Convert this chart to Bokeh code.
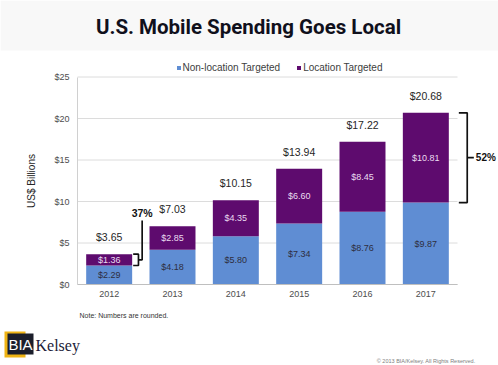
from bokeh.plotting import figure
from bokeh.models import ColumnDataSource, FixedTicker, Legend, LegendItem, Label, Range1d
from bokeh.core.properties import value
from bokeh.embed import file_html
from bokeh.resources import INLINE

# ---------------- data ----------------
years = ["2012", "2013", "2014", "2015", "2016", "2017"]
non_location = [2.29, 4.18, 5.80, 7.34, 8.76, 9.87]
location = [1.36, 2.85, 4.35, 6.60, 8.45, 10.81]
totals = [3.65, 7.03, 10.15, 13.94, 17.22, 20.68]
y_ticks = [0, 5, 10, 15, 20, 25]
y_tick_labels = ["$0", "$5", "$10", "$15", "$20", "$25"]
series_names = ["Non-location Targeted", "Location Targeted"]
bracket_years = ["2012", "2017"]
bracket_labels = ["37%", "52%"]

title_text = "U.S. Mobile Spending Goes Local"
y_label = "US$ Billions"
note_text = "Note: Numbers are rounded."
copyright_text = "\u00a9 2013 BIA/Kelsey. All Rights Reserved."

# ---------------- layout (page pixels) ----------------
W, H = 498, 365
FL, FR, FT, FB = 77, 457, 76.5, 284       # plotting area of the chart
Y_MAX = y_ticks[-1]
PXX = (FR - FL) / len(years)
PXY = (FB - FT) / Y_MAX


def dx(px):
    return (px - FL) / PXX


def dy(py):
    return (FB - py) / PXY


BLUE = "#5f8dd3"
PURPLE = "#5e0b6e"
FONT = "Liberation Sans"
INK = "#111111"

xs = [i + 0.5 for i in range(len(years))]
stack_top = [a + b for a, b in zip(non_location, location)]
src = ColumnDataSource(dict(
    x=xs, year=years, non=non_location, loc=location, total=totals,
    non_mid=[v / 2 for v in non_location],
    loc_mid=[a + b / 2 for a, b in zip(non_location, location)],
    non_lbl=["$%.2f" % v for v in non_location],
    loc_lbl=["$%.2f" % v for v in location],
    tot_lbl=["$%.2f" % v for v in totals],
))

p = figure(width=W, height=H, output_backend="svg", toolbar_location=None,
           x_range=Range1d(dx(0), dx(W)), y_range=Range1d(dy(H), dy(0)),
           min_border=0)
p.outline_line_color = None
p.background_fill_color = "white"
p.border_fill_color = "white"

# light header band behind the title
p.quad(left=[dx(0)], right=[dx(W)], top=[dy(0)], bottom=[dy(50)],
       fill_color="#f8f8f8", line_color=None)

# grid lines (bounded to the category span)
p.xgrid.grid_line_color = None
p.ygrid.grid_line_color = None
p.segment(x0=[0] * len(y_ticks), x1=[len(years)] * len(y_ticks), y0=y_ticks, y1=y_ticks,
          line_color="#dcdcdc", line_width=1)

renderers = p.vbar_stack(["non", "loc"], x="x", width=0.726, source=src,
                         color=[BLUE, PURPLE], line_color=None)

# axes, pinned at the data origin
p.xaxis.fixed_location = 0
p.yaxis.fixed_location = 0
p.xaxis.ticker = FixedTicker(ticks=xs)
p.xaxis.major_label_overrides = {x: y for x, y in zip(xs, years)}
p.xaxis.bounds = (0, len(years))
p.yaxis.ticker = FixedTicker(ticks=y_ticks)
p.yaxis.major_label_overrides = {t: l for t, l in zip(y_ticks, y_tick_labels)}
p.yaxis.bounds = (0, Y_MAX)
for ax in (p.xaxis, p.yaxis):
    ax.major_tick_line_color = None
    ax.minor_tick_line_color = None
    ax.major_tick_out = 0
    ax.major_tick_in = 0
    ax.minor_tick_out = 0
    ax.major_label_text_font = FONT
    ax.major_label_text_font_size = "9px"
    ax.major_label_text_color = "#4d4d4d"
p.xaxis.axis_line_color = "#bfbfbf"
p.yaxis.axis_line_color = "#d0d0d0"
p.xaxis.major_label_standoff = 6
p.yaxis.major_label_standoff = 8
p.yaxis.axis_label = y_label
p.yaxis.axis_label_text_font = FONT
p.yaxis.axis_label_text_font_size = "10px"
p.yaxis.axis_label_text_font_style = "normal"
p.yaxis.axis_label_text_color = "#262626"
p.yaxis.axis_label_standoff = 14

# value labels
p.text(x="x", y="non_mid", text="non_lbl", source=src, text_align="center",
       text_baseline="middle", text_font_size="9px", text_color="#2e2e3e",
       text_font=value(FONT))
p.text(x="x", y="loc_mid", text="loc_lbl", source=src, text_align="center",
       text_baseline="middle", text_font_size="9px", text_color="#eadcf0",
       text_font=value(FONT))
p.text(x="x", y="total", text="tot_lbl", source=src, text_align="center",
       text_baseline="middle", text_font_size="10.5px", text_color="#262626",
       y_offset=-17, text_font=value(FONT))

# legend (location measured from the bottom-left of the canvas-wide frame)
legend = Legend(items=[LegendItem(label=series_names[0], renderers=[renderers[0]]),
                       LegendItem(label=series_names[1], renderers=[renderers[1]])],
                orientation="horizontal", location=(175.5, 292.5),
                label_text_font=FONT, label_text_font_size="10px",
                label_text_color="#404040", glyph_width=5, glyph_height=5,
                label_height=10, label_standoff=2, spacing=16, padding=0,
                margin=0, border_line_color=None, background_fill_alpha=0)
p.add_layout(legend)


# brackets
def bracket_paths(i, arm0, arm1, tip):
    xc = xs[i]
    a0, a1, t = xc + arm0 / PXX, xc + arm1 / PXX, xc + tip / PXX
    lo, hi = non_location[i], stack_top[i]
    mid = (lo + hi) / 2
    return [a0, a1, a1, a0], [hi, hi, lo, lo], t, mid


i0 = years.index(bracket_years[0])
bx0, by0, t0, m0 = bracket_paths(i0, 24, 29.3, 33)
top0 = dy(220)
i1 = years.index(bracket_years[1])
bx1, by1, t1, m1 = bracket_paths(i1, 33, 41.4, 48)
p.multi_line(xs=[bx0, [bx0[1], t0, t0], bx1, [bx1[1], t1]],
             ys=[by0, [m0, m0, top0], by1, [m1, m1]],
             line_color=INK, line_width=1.7)
p.add_layout(Label(x=t0, y=top0, y_offset=2, text=bracket_labels[0], text_align="center",
                   text_baseline="bottom", text_font=FONT, text_font_size="10.5px",
                   text_font_style="bold", text_color=INK))
p.add_layout(Label(x=t1, y=m1, x_offset=2, text=bracket_labels[1], text_align="left",
                   text_baseline="middle", text_font=FONT, text_font_size="10px",
                   text_font_style="bold", text_color=INK))

# title
p.add_layout(Label(x=dx(248), y=dy(26), text=title_text, text_align="center",
                   text_baseline="middle", text_font="Roboto",
                   text_font_size="20.5px", text_font_style="bold", text_color="#10101c"))

# footer: note, copyright, logo
p.add_layout(Label(x=dx(79), y=dy(315), text=note_text, text_align="left",
                   text_baseline="middle", text_font=FONT, text_font_size="7px",
                   text_color="#333333"))
p.add_layout(Label(x=dx(475), y=dy(360), text=copyright_text, text_align="right",
                   text_baseline="middle", text_font=FONT, text_font_size="5.5px",
                   text_color="#808080"))
p.quad(left=[dx(4)], right=[dx(25)], top=[dy(331)], bottom=[dy(357)],
       fill_color="#f0b414", line_color=None)
p.quad(left=[dx(7)], right=[dx(33)], top=[dy(333)], bottom=[dy(354)],
       fill_color="#1b1e2b", line_color=None)
p.add_layout(Label(x=dx(20), y=dy(344), text="BIA", text_align="center",
                   text_baseline="middle", text_font=FONT, text_font_size="15px",
                   text_color="white"))
p.add_layout(Label(x=dx(35), y=dy(344.5), text="Kelsey", text_align="left",
                   text_baseline="middle", text_font="Liberation Serif",
                   text_font_size="16px", text_color="#1c1c38"))

open("out.html", "w").write(file_html(p, INLINE))
